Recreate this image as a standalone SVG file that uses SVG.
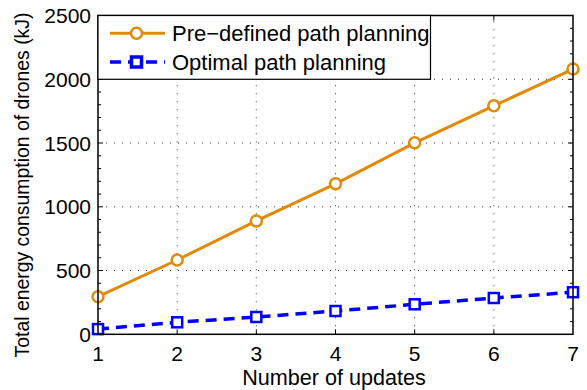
<svg xmlns="http://www.w3.org/2000/svg" width="587" height="390" viewBox="0 0 587 390">
<style>
text{font-family:"Liberation Sans",Arial,sans-serif;fill:#000}
.tick{font-size:21px}
.leg{font-size:22px}
.xl{font-size:21.6px}
.yl{font-size:19.4px}
.grid{stroke:#333;stroke-width:1;stroke-dasharray:1 7;fill:none}
.ax{stroke:#000;stroke-width:1.5;fill:none}
.tk{stroke:#000;stroke-width:1;fill:none}
.or{stroke:#E08A0A;stroke-width:3;fill:none}
.bl{stroke:#0000FF;stroke-width:3.5;fill:none;stroke-dasharray:11 7}
.om{stroke:#E08A0A;stroke-width:2.5;fill:#fff}
.bm{stroke:#0000FF;stroke-width:2.5;fill:#fff}
</style>
<rect width="587" height="390" fill="#fff"/>
<g id="grid">
<path class="grid" d="M177.17 334.3V15.5M256.33 334.3V15.5M335.5 334.3V15.5M414.67 334.3V15.5M493.83 334.3V15.5"/>
<path class="grid" d="M98 270.5H573M98 206.8H573M98 143H573M98 79.3H573"/>
</g>
<g id="ticks">
<path class="tk" d="M177.17 334.3v-5M256.33 334.3v-5M335.5 334.3v-5M414.67 334.3v-5M493.83 334.3v-5M177.17 15.5v5M256.33 15.5v5M335.5 15.5v5M414.67 15.5v5M493.83 15.5v5"/>
<path class="tk" d="M98 270.5h5M98 206.8h5M98 143h5M98 79.3h5M573 270.5h-5M573 206.8h-5M573 143h-5M573 79.3h-5"/>
<path class="tk" d="M98 321.55h3M98 308.8h3M98 296.05h3M98 283.3h3M98 257.75h3M98 245h3M98 232.25h3M98 219.5h3M98 194.05h3M98 181.3h3M98 168.55h3M98 155.8h3M98 130.25h3M98 117.5h3M98 104.75h3M98 92h3M98 66.55h3M98 53.8h3M98 41.05h3M98 28.3h3"/>
<path class="tk" d="M573 321.55h-3M573 308.8h-3M573 296.05h-3M573 283.3h-3M573 257.75h-3M573 245h-3M573 232.25h-3M573 219.5h-3M573 194.05h-3M573 181.3h-3M573 168.55h-3M573 155.8h-3M573 130.25h-3M573 117.5h-3M573 104.75h-3M573 92h-3M573 66.55h-3M573 53.8h-3M573 41.05h-3M573 28.3h-3"/>
</g>
<g id="series-optimal">
<polyline class="bl" points="98,329.1 177.17,322.3 256.33,317 335.5,311 414.67,304.3 493.83,298 573,292.2"/>
<g>
<rect class="bm" x="93" y="324.1" width="10" height="10"/>
<rect class="bm" x="172.17" y="317.3" width="10" height="10"/>
<rect class="bm" x="251.33" y="312" width="10" height="10"/>
<rect class="bm" x="330.5" y="306" width="10" height="10"/>
<rect class="bm" x="409.67" y="299.3" width="10" height="10"/>
<rect class="bm" x="488.83" y="293" width="10" height="10"/>
<rect class="bm" x="568" y="287.2" width="10" height="10"/>
</g>
</g>
<g id="series-predefined">
<polyline class="or" points="98,296.7 177.17,260 256.33,220.9 335.5,183.8 414.67,142.8 493.83,105.8 573,69.1"/>
<g>
<circle class="om" cx="98" cy="296.7" r="5.5"/>
<circle class="om" cx="177.17" cy="260" r="5.5"/>
<circle class="om" cx="256.33" cy="220.9" r="5.5"/>
<circle class="om" cx="335.5" cy="183.8" r="5.5"/>
<circle class="om" cx="414.67" cy="142.8" r="5.5"/>
<circle class="om" cx="493.83" cy="105.8" r="5.5"/>
<circle class="om" cx="573" cy="69.1" r="5.5"/>
</g>
</g>
<rect id="axes" class="ax" x="98" y="15.5" width="475" height="318.8"/>
<g id="legend">
<rect x="98" y="15.5" width="332.5" height="63.8" fill="#fff" stroke="#000" stroke-width="1.2"/>
<line class="or" x1="110" y1="33.3" x2="165" y2="33.3"/>
<circle class="om" cx="136.5" cy="33.3" r="5.5"/>
<text class="leg" x="172" y="41">Pre−defined path planning</text>
<line class="bl" x1="110" y1="62" x2="165" y2="62" stroke-dasharray="10 5.5"/>
<rect x="131.5" y="57" width="10" height="10" fill="#fff" stroke="#0000FF" stroke-width="3.5"/>
<text class="leg" x="172" y="69.8">Optimal path planning</text>
</g>
<g id="xticklabels" class="tick" text-anchor="middle">
<text x="98" y="360.5">1</text>
<text x="177.17" y="360.5">2</text>
<text x="256.33" y="360.5">3</text>
<text x="335.5" y="360.5">4</text>
<text x="414.67" y="360.5">5</text>
<text x="493.83" y="360.5">6</text>
<text x="573" y="360.5">7</text>
</g>
<g id="yticklabels" class="tick" text-anchor="end">
<text x="91" y="341.8">0</text>
<text x="91" y="278">500</text>
<text x="91" y="214.3">1000</text>
<text x="91" y="150.5">1500</text>
<text x="91" y="86.8">2000</text>
<text x="91" y="23">2500</text>
</g>
<text class="xl" x="334" y="385" text-anchor="middle">Number of updates</text>
<text class="yl" transform="translate(29,185) rotate(-90)" text-anchor="middle">Total energy consumption of drones (kJ)</text>
</svg>
